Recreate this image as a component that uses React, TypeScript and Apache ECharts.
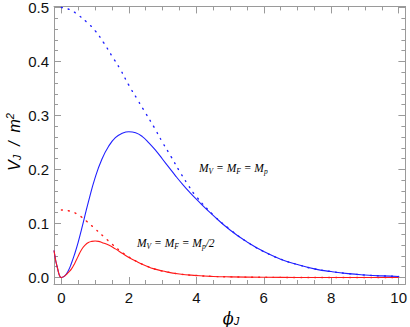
import React, { useEffect, useRef } from "react";
import * as echarts from "echarts";

// ---- data ----
const blueSolidX = [-0.22, -0.1, 0, 0.1, 0.2, 0.3, 0.4, 0.5, 0.6, 0.8, 1.0, 1.2, 1.4, 1.6, 1.8, 2.0, 2.2, 2.4, 2.6, 2.8, 3.0, 3.2, 3.4, 3.6, 3.8, 4.0, 4.5, 5, 5.5, 6, 6.5, 7, 7.5, 8, 8.5, 9, 9.5, 10];
const blueSolidY = [0.05, 0.013, 0.0, 0.003, 0.012, 0.027, 0.045, 0.066, 0.09, 0.14, 0.185, 0.219, 0.243, 0.259, 0.267, 0.27, 0.268, 0.261, 0.249, 0.235, 0.219, 0.203, 0.187, 0.172, 0.158, 0.145, 0.115, 0.088, 0.066, 0.048, 0.034, 0.024, 0.016, 0.011, 0.0072, 0.0047, 0.003, 0.002];

const blueDotX = [0, 0.25, 0.5, 0.75, 1.0, 1.25, 1.5, 1.75, 2.0, 2.25, 2.5, 2.75, 3.0, 3.25, 3.5, 3.75, 4.0, 4.5, 5, 5.5, 6, 6.5, 7, 7.5, 8, 8.5, 9, 9.5, 10];
const blueDotY = [0.5, 0.496, 0.486, 0.473, 0.457, 0.435, 0.41, 0.385, 0.356, 0.33, 0.304, 0.278, 0.25, 0.224, 0.197, 0.172, 0.15, 0.116, 0.089, 0.066, 0.048, 0.034, 0.024, 0.016, 0.011, 0.0072, 0.0047, 0.003, 0.002];

const redSolidX = [-0.22, -0.1, 0, 0.1, 0.2, 0.3, 0.4, 0.5, 0.6, 0.7, 0.8, 0.9, 1.0, 1.1, 1.2, 1.4, 1.6, 1.8, 2.0, 2.25, 2.5, 2.75, 3.0, 3.5, 4.0, 4.5, 5, 6, 7, 8, 9, 10];
const redSolidY = [0.05, 0.013, 0.0, 0.003, 0.009, 0.016, 0.027, 0.04, 0.052, 0.06, 0.065, 0.067, 0.0675, 0.067, 0.065, 0.06, 0.053, 0.045, 0.037, 0.029, 0.022, 0.016, 0.012, 0.0065, 0.0037, 0.002, 0.0012, 0.0004, 0.0001, 0.0, 0.0, 0.0];

const redDotX = [0, 0.25, 0.5, 0.75, 1.0, 1.25, 1.5, 1.75, 2.0, 2.25, 2.5, 2.75, 3.0, 3.5, 4.0, 4.5, 5, 6, 7, 8, 9, 10];
const redDotY = [0.125, 0.123, 0.116, 0.104, 0.09, 0.076, 0.062, 0.049, 0.038, 0.029, 0.022, 0.016, 0.012, 0.0065, 0.0037, 0.002, 0.0012, 0.0004, 0.0001, 0.0, 0.0, 0.0];

const xTickLabels = ["0", "2", "4", "6", "8", "10"];
const yTickLabels = ["0.0", "0.1", "0.2", "0.3", "0.4", "0.5"];

const X_MIN = -0.22, X_MAX = 10.2, Y_MIN = -0.012, Y_MAX = 0.502;

const pairs = (xs: number[], ys: number[]) => xs.map((x, i) => [x, ys[i]]);

const FRAME = "#9a9a9a";
const BLUE = "#2020ff";
const RED = "#ff1a1a";

export default function App() {
  const ref = useRef<HTMLDivElement>(null);
  useEffect(() => {
    if (!ref.current) return;
    const chart = echarts.init(ref.current, undefined, { renderer: "svg" });

    const tickCfg = { show: true, inside: true, length: 7, lineStyle: { color: FRAME, width: 1 } };
    const minorCfg = (n: number) => ({ show: true, splitNumber: n, length: 4, lineStyle: { color: FRAME, width: 1 } });
    const labelFont = "Liberation Sans, Arial, sans-serif";

    const mkX = (pos: "bottom" | "top", labels: boolean) => ({
      type: "value",
      position: pos,
      min: X_MIN,
      max: X_MAX,
      splitNumber: 5,
      axisLine: { show: true, onZero: false, lineStyle: { color: FRAME, width: 1 } },
      splitLine: { show: false },
      axisTick: tickCfg,
      minorTick: minorCfg(4),
      axisLabel: labels
        ? {
            show: true,
            showMinLabel: false,
            showMaxLabel: false,
            margin: 6,
            color: "#111",
            fontSize: 15,
            fontFamily: labelFont,
            formatter: (v: number) => (xTickLabels.includes(String(v)) ? String(v) : ""),
          }
        : { show: false },
    });
    const mkY = (pos: "left" | "right", labels: boolean) => ({
      type: "value",
      position: pos,
      min: Y_MIN,
      max: Y_MAX,
      splitNumber: 5,
      axisLine: { show: true, onZero: false, lineStyle: { color: FRAME, width: 1 } },
      splitLine: { show: false },
      axisTick: tickCfg,
      minorTick: minorCfg(5),
      axisLabel: labels
        ? {
            show: true,
            showMinLabel: false,
            showMaxLabel: false,
            margin: 5,
            color: "#111",
            fontSize: 15,
            fontFamily: labelFont,
            formatter: (v: number) => (yTickLabels.includes(v.toFixed(1)) && Math.abs(v * 10 - Math.round(v * 10)) < 1e-9 ? v.toFixed(1) : ""),
          }
        : { show: false },
    });

    const lineSeries = (data: number[][], color: string, dotted: boolean, z: number) => ({
      type: "line",
      data,
      xAxisIndex: 0,
      yAxisIndex: 0,
      showSymbol: false,
      symbol: "none",
      smooth: 0.5,
      z,
      lineStyle: dotted
        ? { color, width: 1.4, type: [1, 6], cap: "round" }
        : { color, width: 1.1 },
      clip: true,
    });

    const serif = "Liberation Serif, Times New Roman, serif";
    const mkRich = (color: string) => ({
      m: { fontSize: 11.5, fontStyle: "italic", fontFamily: serif, color },
      s: { fontSize: 7.5, fontStyle: "italic", fontFamily: serif, color, padding: [7, 0, 0, 0] },
    });

    chart.setOption({
      animation: false,
      backgroundColor: "#fff",
      grid: { left: 54, right: 2, top: 6, bottom: 43, containLabel: false },
      xAxis: [mkX("bottom", true), mkX("top", false)],
      yAxis: [mkY("left", true), mkY("right", false)],
      series: [
        lineSeries(pairs(blueDotX, blueDotY), BLUE, true, 2),
        lineSeries(pairs(redDotX, redDotY), RED, true, 2),
        lineSeries(pairs(blueSolidX, blueSolidY), BLUE, false, 3),
        lineSeries(pairs(redSolidX, redSolidY), RED, false, 4),
      ],
      graphic: [
        {
          type: "text",
          left: 199,
          top: 162,
          style: { text: "{m|M}{s|V}{m| = M}{s|F}{m| = M}{s|p}", rich: mkRich(BLUE) },
        },
        {
          type: "text",
          left: 137,
          top: 237,
          style: { text: "{m|M}{s|V}{m| = M}{s|F}{m| = M}{s|p}{m|/2}", rich: mkRich(RED) },
        },
        {
          type: "text",
          x: 14,
          y: 142,
          rotation: Math.PI / 2,
          style: {
            text: "{a|V}{b|J}{a|  /  m}{c|2}",
            align: "center",
            verticalAlign: "middle",
            rich: {
              a: { fontSize: 16, fontStyle: "italic", fontFamily: labelFont, color: "#111" },
              b: { fontSize: 11, fontStyle: "italic", fontFamily: labelFont, color: "#111", padding: [6, 0, 0, 0] },
              c: { fontSize: 11, fontStyle: "italic", fontFamily: labelFont, color: "#111", padding: [0, 0, 8, 0] },
            },
          },
        },
        {
          type: "text",
          x: 231,
          y: 318,
          style: {
            text: "{a|ϕ}{b|J}",
            align: "center",
            verticalAlign: "middle",
            rich: {
              a: { fontSize: 16, fontStyle: "italic", fontFamily: "DejaVu Serif, Liberation Serif, serif", color: "#111" },
              b: { fontSize: 11, fontStyle: "italic", fontFamily: labelFont, color: "#111", padding: [6, 0, 0, 0] },
            },
          },
        },
      ],
    });

    return () => chart.dispose();
  }, []);
  return <div ref={ref} style={{ width: 410, height: 327, position: "absolute", left: 0, top: 0 }} />;
}
